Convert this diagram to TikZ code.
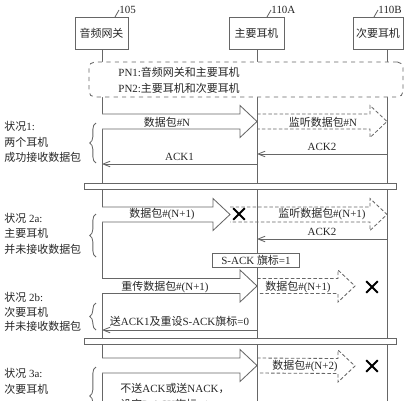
\documentclass[tikz,border=0pt]{standalone}
\usepackage{fontspec}
\setmainfont{Liberation Serif}
\newfontfamily\cjk{Noto Sans CJK SC}
\newcommand{\zh}[1]{{\cjk #1}}
\usepackage{tikz}
\usetikzlibrary{positioning}
\usetikzlibrary{calc}
\usetikzlibrary{arrows.meta}
\usetikzlibrary{shapes.misc}
\usetikzlibrary{decorations.pathreplacing}
\tikzset{entity/.style={draw, fill=white, minimum height=0.8cm, inner sep=1pt}}
\tikzset{note/.style={draw, dashed, rounded corners=4pt, fill=white}}
\tikzset{flag/.style={draw, fill=white, minimum width=2.175cm, minimum height=0.35cm, inner sep=1pt}}
\tikzset{refnum/.style={anchor=west, inner sep=0pt}}
\tikzset{case/.style={anchor=west, inner sep=0pt}}
\tikzset{ack/.style={-{Straight Barb[length=5pt,width=4pt]}}}
\tikzset{lost/.style={cross out, draw=black, line width=1.3pt, minimum size=7pt, inner sep=0pt}}
\tikzset{brace/.style={decorate, decoration={brace, amplitude=4.5pt}}}
\tikzset{sniff/.style={dash pattern=on 2.5pt off 1.5pt}}
% fat message arrow: [style]{start}{tip}
\newcommand{\fatarrow}[3][]{\draw[#1] ($(#2)+(0,-7.5)$) -- ($(#3)+(-17,-7.5)$) -- ($(#3)+(-17,-16)$) -- (#3) -- ($(#3)+(-17,16)$) -- ($(#3)+(-17,7.5)$) -- ($(#2)+(0,7.5)$);}

\begin{document}
\begin{tikzpicture}[x=0.025cm, y=-0.025cm, color=black!60, text=black!85, line width=0.6pt,
  font=\fontsize{7.8}{9}\selectfont]
\useasboundingbox (0,0) rectangle (412,400);
\clip (0,0) rectangle (412,400);
% devices
\node[entity, minimum width=1.325cm] (gw) at (101.5,33) {\zh{音频网关}};
\node[entity, minimum width=1.375cm] (ea) at (256.5,33) {\zh{主要耳机}};
\node[entity, minimum width=1.25cm] (eb) at (378,33) {\zh{次要耳机}};
\coordinate (gwx) at (102,0);
\coordinate (ax) at (257,0);
\coordinate (bx) at (387,0);
\node[refnum] (r105) at (119,10) {105};
\node[refnum] (r110a) at (271,10) {110A};
\node[refnum] (r110b) at (378,10) {110B};
\draw (r105.west) -- ++(-4,7);
\draw (r110a.west) -- ++(-4,7);
\draw (r110b.west) -- ++(-4,7);
% lifelines
\draw (gwx |- gw.south) -- (gwx |- 0,410);
\draw (ax |- ea.south) -- (ax |- 0,410);
\draw (bx |- eb.south) -- (bx |- 0,410);
% pairing
\node[note, minimum width=7.85cm, minimum height=0.875cm] (pn) at (246,79.5) {};
\node[case] (pn1) at (118,72) {PN1:\zh{音频网关和主要耳机}};
\node[case] (pn2) at (118,88) {PN2:\zh{主要耳机和次要耳机}};
% separators
\draw[fill=white] (84,183) rectangle (396,189);
\draw[fill=white] (84,338) rectangle (396,344);

% case 1
\fatarrow[fill=white]{gwx |- 0,121.5}{ax |- 0,121.5}
\fatarrow[sniff]{ax |- 0,121.5}{bx |- 0,121.5}
\node (d1) at (167,122) {\zh{数据包}\#N};
\node (s1) at (323,122) {\zh{监听数据包}\#N};
\draw[ack] (bx |- 0,154) -- (ax |- 0,154) node[midway, above=-1pt] {ACK2};
\draw[ack] (ax |- 0,164) -- (gwx |- 0,164) node[midway, above=-1pt] {ACK1};
\node[case] (c1a) at (4,126) {\zh{状况}1:};
\node[case] (c1b) at (4,142) {\zh{两个耳机}};
\node[case] (c1c) at (4,157) {\zh{成功接收数据包}};
\draw[brace] (96,163) -- (96,123);

% case 2a
\coordinate (t2a) at (230,214.5);
\fatarrow[fill=white]{gwx |- 0,214.5}{t2a}
\fatarrow[sniff]{t2a}{bx |- 0,214.5}
\node[lost] (x2a) at (239,214) {};
\node (d2a) at (162,214) {\zh{数据包}\#(N+1)};
\node (s2a) at (322,214) {\zh{监听数据包}\#(N+1)};
\draw[ack] (bx |- 0,239) -- (ax |- 0,239) node[midway, above=-1pt] {ACK2};
\node[flag] (sack1) at (256,260) {S-ACK \zh{旗标}=1};
\node[case] (c2a) at (4,218) {\zh{状况} 2a:};
\node[case] (c2b) at (4,233) {\zh{主要耳机}};
\node[case] (c2c) at (4,249) {\zh{并未接收数据包}};
\draw[brace] (96,257) -- (96,214);

% case 2b
\coordinate (t2b) at (355,286);
\fatarrow[fill=white]{gwx |- 0,286}{ax |- 0,286}
\fatarrow[sniff]{ax |- 0,286}{t2b}
\node[lost] (x2b) at (372,287) {};
\node (d2b) at (165,287) {\zh{重传数据包}\#(N+1)};
\node (s2b) at (298,287) {\zh{数据包}\#(N+1)};
\draw[ack] (ax |- 0,330) -- (gwx |- 0,330) node[midway, above=-1pt] {\zh{送}ACK1\zh{及重设}S-ACK\zh{旗标}=0};
\node[case] (c3a) at (4,297) {\zh{状况} 2b:};
\node[case] (c3b) at (4,312) {\zh{次要耳机}};
\node[case] (c3c) at (4,326) {\zh{并未接收数据包}};
\draw[brace] (96,330) -- (96,303);

% case 3a
\coordinate (t3a) at (355,366);
\fatarrow[fill=white]{gwx |- 0,365.5}{ax |- 0,365.5}
\fatarrow[sniff]{ax |- 0,365.5}{t3a}
\node[lost] (x3a) at (372,366) {};
\node (s3a) at (305,366) {\zh{数据包}\#(N+2)};
\node[case] (n3a) at (120,388) {\zh{不送}ACK\zh{或送}NACK\zh{，}};
\node[case] (p3a) at (120,404) {\zh{设定}P-ACK\zh{旗标}=1};
\node[case] (c4a) at (4,373) {\zh{状况} 3a:};
\node[case] (c4b) at (4,389) {\zh{次要耳机}};
\draw[brace] (96,425) -- (96,367);
\end{tikzpicture}
\end{document}
